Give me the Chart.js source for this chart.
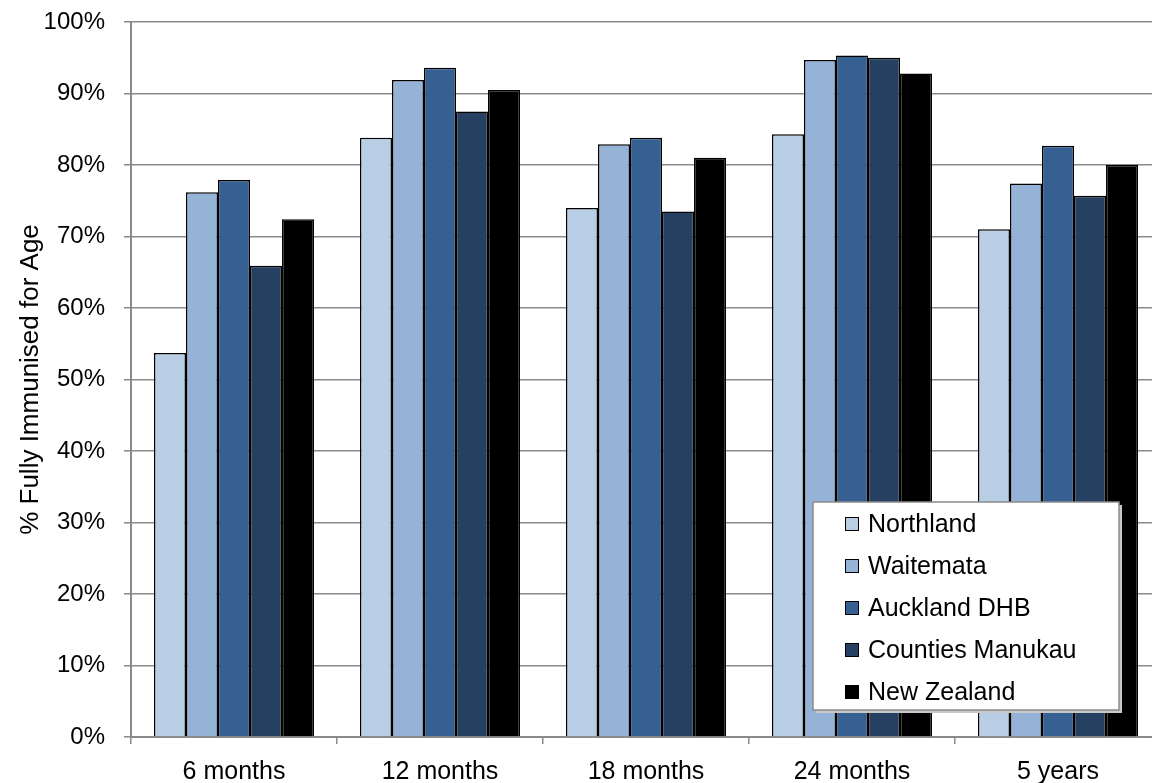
<!DOCTYPE html>
<html>
<head>
<meta charset="utf-8">
<script src="https://cdn.jsdelivr.net/npm/chart.js@4"></script>
<style>
    html, body { margin: 0; padding: 0; background: #fff; overflow: hidden; }
    #wrap { width: 1175px; height: 783px; }
</style>
</head>
<body>
<div id="wrap"><canvas id="immChart" width="1175" height="783"></canvas></div>
<script>
// Data
const categories = ['6 months', '12 months', '18 months', '24 months', '5 years'];
const northland = [53.7, 83.8, 74.0, 84.3, 71.0];
const waitemata = [76.2, 91.9, 82.9, 94.7, 77.4];
const aucklandDhb = [77.9, 93.6, 83.8, 95.3, 82.7];
const countiesManukau = [65.9, 87.5, 73.5, 95.0, 75.7];
const newZealand = [72.4, 90.5, 81.0, 92.8, 80.0];
const yTicks = [0, 10, 20, 30, 40, 50, 60, 70, 80, 90, 100];

const FONT = '"Liberation Sans", Arial, sans-serif';
const GRID = '#8a8a8a';

const series = [
    { label: 'Northland', data: northland, color: '#b9cde5' },
    { label: 'Waitemata', data: waitemata, color: '#95b3d7' },
    { label: 'Auckland DHB', data: aucklandDhb, color: '#366092' },
    { label: 'Counties Manukau', data: countiesManukau, color: '#254061' },
    { label: 'New Zealand', data: newZealand, color: '#000000' }
];

// Legend box drawn inside the plot, like the original
const boxLegend = {
    id: 'boxLegend',
    afterDraw(chart) {
        const ctx = chart.ctx;
        const x = 813, y = 502, w = 306, h = 208;
        ctx.save();
        ctx.fillStyle = '#c8c8c8';
        ctx.fillRect(x + 3, y + 3, w, h);
        ctx.fillStyle = '#fff';
        ctx.fillRect(x, y, w, h);
        ctx.strokeStyle = '#8a8a8a';
        ctx.lineWidth = 1.5;
        ctx.strokeRect(x, y, w, h);

        ctx.font = '25px ' + FONT;
        ctx.textBaseline = 'middle';
        chart.data.datasets.forEach((ds, i) => {
            const cy = 524 + i * 42;
            ctx.fillStyle = ds.backgroundColor;
            ctx.fillRect(845, cy - 7, 14, 14);
            ctx.strokeStyle = '#000';
            ctx.lineWidth = 1;
            ctx.strokeRect(845.5, cy - 6.5, 13, 13);
            ctx.fillStyle = '#000';
            ctx.fillText(ds.label, 868, cy + 1);
        });
        ctx.restore();
    }
};

const ctx = document.getElementById('immChart').getContext('2d');

new Chart(ctx, {
    type: 'bar',
    data: {
        labels: categories,
        datasets: series.map(s => ({
            label: s.label,
            data: s.data,
            backgroundColor: s.color,
            borderColor: '#000',
            borderWidth: 1.5,
            categoryPercentage: 0.777,
            barPercentage: 1
        }))
    },
    options: {
        responsive: false,
        animation: false,
        layout: {
            padding: { top: 22, right: 14, left: 0, bottom: 0 }
        },
        plugins: {
            legend: { display: false },
            tooltip: { enabled: false }
        },
        scales: {
            x: {
                grid: {
                    offset: true,
                    drawOnChartArea: false,
                    drawTicks: true,
                    tickLength: 7,
                    color: GRID,
                    lineWidth: 1.5
                },
                border: { color: GRID, width: 2 },
                ticks: {
                    color: '#000',
                    font: { family: FONT, size: 25 },
                    padding: 13,
                    maxRotation: 0
                },
                afterFit(scale) {
                    scale.height = 46;
                    scale.paddingLeft = 0;
                    scale.paddingRight = 0;
                }
            },
            y: {
                min: 0,
                max: 100,
                afterBuildTicks(scale) {
                    scale.ticks = yTicks.map(v => ({ value: v }));
                },
                grid: {
                    color: GRID,
                    lineWidth: 1.5,
                    drawTicks: true,
                    tickLength: 7
                },
                border: { color: GRID, width: 2 },
                ticks: {
                    color: '#000',
                    font: { family: FONT, size: 24 },
                    padding: 19,
                    callback: v => v + '%'
                },
                title: {
                    display: true,
                    text: '% Fully Immunised for Age',
                    color: '#000',
                    font: { family: FONT, size: 26 },
                    padding: { top: 15, bottom: 0 }
                },
                afterFit(scale) {
                    scale.width = 131;
                    scale.paddingTop = 0;
                    scale.paddingBottom = 0;
                }
            }
        }
    },
    plugins: [boxLegend]
});
</script>
</body>
</html>
